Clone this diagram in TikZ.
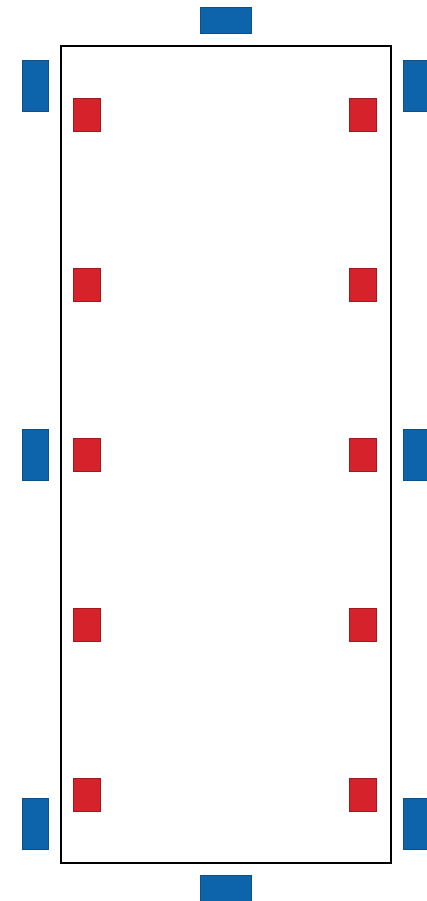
\documentclass[tikz,border=0pt]{standalone}
\definecolor{blk}{RGB}{14,100,170}
\definecolor{redsq}{RGB}{214,34,42}
\begin{document}
\begin{tikzpicture}[x=1pt,y=-1pt,
  bluev/.style={fill=blk,draw=blk!80!black,line width=0.6pt,minimum width=26pt,minimum height=51pt,inner sep=0pt,outer sep=0pt},
  blueh/.style={fill=blk,draw=blk!80!black,line width=0.6pt,minimum width=51pt,minimum height=26pt,inner sep=0pt,outer sep=0pt},
  redbox/.style={fill=redsq,draw=redsq!75!black,line width=0.6pt,minimum width=27pt,minimum height=33pt,inner sep=0pt,outer sep=0pt},
  frame/.style={draw=black,line width=2pt}]
\useasboundingbox (0,0) rectangle (427,901);
\fill[white] (0,0) rectangle (427,901);
\draw[frame] (61,46) rectangle (391,863);
% blue outer boxes
\node[blueh] (bt) at (226,20.5) {};
\node[blueh] (bb) at (226,888) {};
\node[bluev] (l1) at (35,85.5) {};
\node[bluev] (l2) at (35,455) {};
\node[bluev] (l3) at (35,823.5) {};
\node[bluev] (r1) at (416,85.5) {};
\node[bluev] (r2) at (416,455) {};
\node[bluev] (r3) at (416,823.5) {};
% red inner boxes
\foreach \i/\yy in {1/114.5,2/284.5,3/454.5,4/624.5,5/794.5}{
  \node[redbox] (rl\i) at (86.5,\yy) {};
  \node[redbox] (rr\i) at (362.5,\yy) {};
}
\end{tikzpicture}
\end{document}
